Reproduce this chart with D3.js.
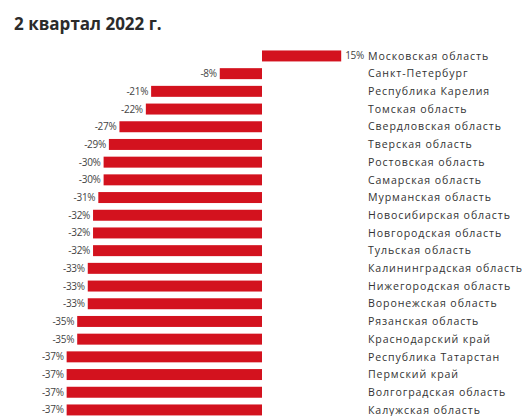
<!DOCTYPE html>
<meta charset="utf-8">
<style>
body { margin: 0; background: #fff; }
text { font-family: "Open Sans", sans-serif; }
.title { font-family: "Open Sans", sans-serif; font-weight: 700; font-size: 17px; fill: #2b2b2b; }
.val { font-size: 10px; fill: #444; letter-spacing: -0.3px; }
.name { font-size: 10.6px; fill: #333; letter-spacing: 0.9px; }
</style>
<svg width="530" height="416"></svg>
<script src="https://d3js.org/d3.v7.min.js"></script>
<script>

var regions = ["Московская область", "Санкт-Петербург", "Республика Карелия", "Томская область",
  "Свердловская область", "Тверская область", "Ростовская область", "Самарская область",
  "Мурманская область", "Новосибирская область", "Новгородская область", "Тульская область",
  "Калининградская область", "Нижегородская область", "Воронежская область", "Рязанская область",
  "Краснодарский край", "Республика Татарстан", "Пермский край", "Волгоградская область",
  "Калужская область"];

var changes = [15, -8, -21, -22, -27, -29, -30, -30, -31, -32, -32, -32, -33, -33, -33, -35, -35, -37, -37, -37, -37];

var title = "2 квартал 2022 г.";

var data = regions.map(function(r, i) { return {name: r, value: changes[i]}; });

var svg = d3.select("svg");

var x = d3.scaleLinear()
    .domain([-40, 15])
    .range([262 - 40 * 5.28, 262 + 15 * 5.28]);

var y = d3.scaleBand()
    .domain(regions)
    .range([47.1, 47.1 + 21 * 17.7])
    .paddingInner(0.38)
    .paddingOuter(0.19);

svg.append("text")
    .attr("class", "title")
    .attr("x", 14)
    .attr("y", 30)
    .text(title);

var rows = svg.selectAll("g.row")
  .data(data)
  .enter().append("g")
    .attr("class", "row");

rows.append("rect")
    .attr("x", function(d) { return x(Math.min(0, d.value)); })
    .attr("y", function(d) { return y(d.name); })
    .attr("width", function(d) { return Math.abs(x(d.value) - x(0)); })
    .attr("height", y.bandwidth())
    .attr("fill", "#d3121e");

rows.append("text")
    .attr("class", "val")
    .attr("x", function(d) { return d.value < 0 ? x(d.value) - 3 : x(d.value) + 4; })
    .attr("y", function(d) { return y(d.name) + y.bandwidth() / 2; })
    .attr("dy", "0.35em")
    .attr("text-anchor", function(d) { return d.value < 0 ? "end" : "start"; })
    .text(function(d) { return d.value + "%"; });

rows.append("text")
    .attr("class", "name")
    .attr("x", 368)
    .attr("y", function(d) { return y(d.name) + y.bandwidth() / 2; })
    .attr("dy", "0.35em")
    .text(function(d) { return d.name; });

</script>
